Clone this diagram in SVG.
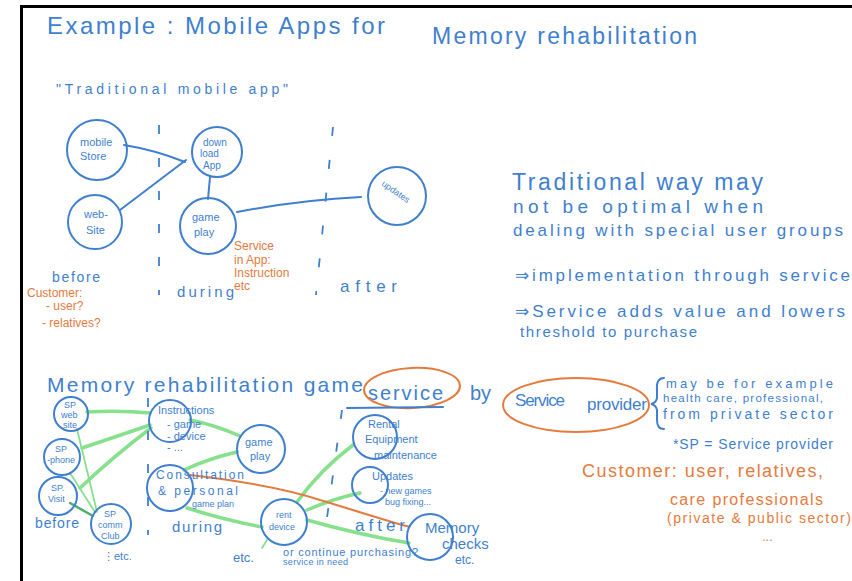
<svg xmlns="http://www.w3.org/2000/svg" width="852" height="581" viewBox="0 0 852 581">
<style>
  text { font-family: "Liberation Sans", "DejaVu Sans", sans-serif; }
  .b { fill: #3f7fcf; }
  .o { fill: #e57a3d; }
  .node { fill: none; stroke: #3f7fcf; stroke-width: 2; }
  .edge { fill: none; stroke: #3f7fcf; stroke-width: 2; stroke-linecap: round; }
  .g { fill: none; stroke: #86e08c; stroke-width: 3.5; stroke-linecap: round; }
  .gt { fill: none; stroke: #86e08c; stroke-width: 1.8; stroke-linecap: round; }
  .gd { fill: none; stroke: #4fae6a; stroke-width: 2.5; stroke-linecap: round; }
  .div { fill: none; stroke: #3f7fcf; stroke-width: 1.8; stroke-dasharray: 9 24; }
  .or { fill: none; stroke: #e57a3d; stroke-width: 2; }
  .s { font-size: 9px; }
  .m { font-size: 11px; }
</style>

<rect width="852" height="581" fill="#ffffff"/>
<path d="M21.5,581 V6.5 H852" fill="none" stroke="#000" stroke-width="3"/>

<!-- Titles and free text -->
<g id="title">
  <text class="b" x="47" y="34" font-size="24" textLength="338" lengthAdjust="spacing">Example : Mobile Apps for</text>
  <text class="b" x="432" y="44" font-size="23" textLength="265" lengthAdjust="spacing">Memory rehabilitation</text>
  <text class="b" x="56" y="94" font-size="14" textLength="232" lengthAdjust="spacing">"Traditional mobile app"</text>
</g>

<g id="right-notes">
  <text class="b" x="512" y="190" font-size="23" textLength="251" lengthAdjust="spacing">Traditional way may</text>
  <text class="b" x="513" y="213" font-size="19" textLength="250" lengthAdjust="spacing">not be optimal when</text>
  <text class="b" x="513" y="236" font-size="17" textLength="330" lengthAdjust="spacing">dealing with special user groups</text>
  <text class="b" x="515" y="281" font-size="17" textLength="335" lengthAdjust="spacing">⇒implementation through service</text>
  <text class="b" x="515" y="317" font-size="17" textLength="330" lengthAdjust="spacing">⇒Service adds value and lowers</text>
  <text class="b" x="520" y="337" font-size="15" textLength="177" lengthAdjust="spacing">threshold to purchase</text>
</g>

<!-- top phases -->
<g id="top-phases">
  <path class="div" d="M159,125 V295"/>
  <path class="div" d="M333,127 L316,295"/>
  <text class="b" x="52" y="282" font-size="14" textLength="48" lengthAdjust="spacing">before</text>
  <text class="o" x="27" y="297" font-size="12">Customer:</text>
  <text class="o" x="46" y="310" font-size="12">- user?</text>
  <text class="o" x="42" y="327" font-size="12">- relatives?</text>
  <text class="b" x="177" y="297" font-size="15" textLength="57" lengthAdjust="spacing">during</text>
  <text class="b" x="340" y="292" font-size="17" textLength="57" lengthAdjust="spacing">after</text>
  <text class="o" x="234" y="250" font-size="12">Service</text>
  <text class="o" x="234" y="264" font-size="12">in App:</text>
  <text class="o" x="234" y="277" font-size="12">Instruction</text>
  <text class="o" x="234" y="290" font-size="12">etc</text>
</g>

<!-- connectors -->
<g id="connectors">
  <path class="edge" d="M124,145 Q155,150 185,162"/>
  <path class="edge" d="M120,210 L186,160"/>
  <path class="edge" d="M210,177 L208,199"/>
  <path class="edge" d="M237,212 Q300,200 361,197"/>

  <path class="g" d="M87,412 Q120,410 150,413"/>
  <path class="g" d="M82,448 Q115,437 150,425"/>
  <path class="g" d="M80,488 Q115,455 151,428"/>
  <path class="gt" d="M77,429 L97,512"/>
  <path class="gt" d="M70,473 L95,512"/>
  <path class="gd" d="M70,503 L93,516"/>
  <path class="g" d="M190,420 Q215,425 240,436"/>
  <path class="g" d="M184,470 Q210,458 237,452"/>
  <path class="g" d="M187,508 Q225,520 262,527"/>
  <path class="g" d="M297,502 Q320,470 353,445"/>
  <path class="g" d="M307,510 Q335,498 360,493"/>
  <path class="g" d="M307,520 Q360,535 409,543"/>
  <path class="gt" d="M267,540 L262,548"/>
  <path class="or" d="M190,475 C250,482 290,490 320,500 C360,512 390,522 410,527"/>
</g>

<!-- top nodes -->
<g id="mobile-store">
  <circle class="node" cx="97" cy="150" r="30"/>
  <text class="b m" x="80" y="146">mobile</text>
  <text class="b m" x="80" y="160">Store</text>
</g>
<g id="web-site">
  <circle class="node" cx="95" cy="222" r="27"/>
  <text class="b m" x="84" y="218">web-</text>
  <text class="b m" x="86" y="234">Site</text>
</g>
<g id="download-app">
  <circle class="node" cx="217" cy="152" r="25"/>
  <text class="b" x="203" y="146" font-size="10">down</text>
  <text class="b" x="200" y="157" font-size="10">load</text>
  <text class="b" x="203" y="169" font-size="10">App</text>
</g>
<g id="game-play-top">
  <circle class="node" cx="208" cy="226" r="28"/>
  <text class="b m" x="192" y="221">game</text>
  <text class="b m" x="194" y="236">play</text>
</g>
<g id="updates-top">
  <circle class="node" cx="397" cy="196" r="29"/>
  <text class="b s" x="0" y="0" transform="translate(381,185) rotate(35)">updates</text>
</g>

<!-- bottom heading -->
<g id="bottom-heading">
  <text class="b" x="47" y="392" font-size="21" textLength="316" lengthAdjust="spacing">Memory rehabilitation game</text>
  <text class="b" x="368" y="400" font-size="20" textLength="75" lengthAdjust="spacing">service</text>
  <ellipse class="or" cx="412" cy="388" rx="48" ry="20" transform="rotate(-3 412 388)"/>
  <path class="edge" d="M347,408 L443,407"/>
  <text class="b" x="470" y="400" font-size="20">by</text>
  <text class="b" x="515" y="406" font-size="17" textLength="50" lengthAdjust="spacing">Service</text>
  <text class="b" x="587" y="410" font-size="17" textLength="60" lengthAdjust="spacing">provider</text>
  <ellipse class="or" cx="576" cy="405" rx="73" ry="27"/>
  <path class="edge" d="M664,378 Q656,378 657,390 L657,398 Q656,403 651,404 Q656,405 657,410 L657,420 Q657,429 664,429"/>
  <text class="b" x="666" y="388" font-size="13" textLength="167" lengthAdjust="spacing">may be for example</text>
  <text class="b" x="663" y="402" font-size="11.5" textLength="160" lengthAdjust="spacing">health care, professional,</text>
  <text class="b" x="663" y="419" font-size="14" textLength="170" lengthAdjust="spacing">from private sector</text>
  <text class="b" x="673" y="449" font-size="14" textLength="160" lengthAdjust="spacing">*SP = Service provider</text>
  <text class="o" x="582" y="477" font-size="18" textLength="241" lengthAdjust="spacing">Customer: user, relatives,</text>
  <text class="o" x="670" y="505" font-size="16" textLength="153" lengthAdjust="spacing">care professionals</text>
  <text class="o" x="667" y="523" font-size="14" textLength="184" lengthAdjust="spacing">(private &amp; public sector)</text>
  <text class="o" x="762" y="541" font-size="13">...</text>
</g>

<!-- bottom phases -->
<g id="bottom-phases">
  <path class="div" d="M148,398 V535"/>
  <path class="div" d="M342,410 L325,532"/>
  <text class="b" x="35" y="528" font-size="14" textLength="44" lengthAdjust="spacing">before</text>
  <text class="b" x="172" y="532" font-size="15" textLength="50" lengthAdjust="spacing">during</text>
  <text class="b" x="355" y="531" font-size="17" textLength="50" lengthAdjust="spacing">after</text>
  <text class="b" x="103" y="560" font-size="11">⋮etc.</text>
  <text class="b" x="233" y="562" font-size="13">etc.</text>
  <text class="b" x="283" y="556" font-size="11" textLength="135" lengthAdjust="spacing">or continue purchasing?</text>
  <text class="b" x="283" y="565" font-size="9" textLength="65" lengthAdjust="spacing">service in need</text>
  <text class="b" x="455" y="564" font-size="12">etc.</text>
</g>

<!-- bottom nodes -->
<g id="sp-web-site">
  <circle class="node" cx="71" cy="414" r="17"/>
  <text class="b s" x="64" y="408">SP</text>
  <text class="b s" x="61" y="418">web</text>
  <text class="b s" x="63" y="428">site</text>
</g>
<g id="sp-phone">
  <circle class="node" cx="62" cy="457" r="18"/>
  <text class="b s" x="55" y="452">SP</text>
  <text class="b s" x="47" y="463">-phone</text>
</g>
<g id="sp-visit">
  <circle class="node" cx="58" cy="496" r="19"/>
  <text class="b s" x="51" y="491">SP.</text>
  <text class="b s" x="48" y="502">Visit</text>
</g>
<g id="sp-comm-club">
  <circle class="node" cx="111" cy="524" r="20"/>
  <text class="b s" x="104" y="517">SP</text>
  <text class="b s" x="98" y="528">comm</text>
  <text class="b s" x="101" y="539">Club</text>
</g>
<g id="instructions">
  <circle class="node" cx="170" cy="421" r="21"/>
  <text class="b m" x="158" y="414">Instructions</text>
  <text class="b m" x="167" y="428">- game</text>
  <text class="b m" x="167" y="440">- device</text>
  <text class="b m" x="167" y="451">- ...</text>
</g>
<g id="game-play-bottom">
  <circle class="node" cx="261" cy="449" r="24"/>
  <text class="b m" x="245" y="446">game</text>
  <text class="b m" x="250" y="460">play</text>
</g>
<g id="consultation">
  <circle class="node" cx="170" cy="488" r="23"/>
  <text class="b" x="156" y="479" font-size="12" textLength="88" lengthAdjust="spacing">Consultation</text>
  <text class="b" x="158" y="495" font-size="12" textLength="80" lengthAdjust="spacing">&amp; personal</text>
  <text class="b s" x="192" y="507">game plan</text>
</g>
<g id="rent-device">
  <circle class="node" cx="284" cy="522" r="23"/>
  <text class="b s" x="276" y="518">rent</text>
  <text class="b s" x="269" y="530">device</text>
</g>
<g id="rental">
  <circle class="node" cx="375" cy="437" r="22"/>
  <text class="b m" x="368" y="428">Rental</text>
  <text class="b m" x="365" y="443">Equipment</text>
  <text class="b m" x="374" y="459">maintenance</text>
</g>
<g id="updates-bottom">
  <circle class="node" cx="370" cy="485" r="18"/>
  <text class="b m" x="372" y="480">Updates</text>
  <text class="b s" x="380" y="494">- new games</text>
  <text class="b s" x="385" y="505">bug fixing...</text>
</g>
<g id="memory-checks">
  <circle class="node" cx="430" cy="537" r="23"/>
  <text class="b" x="425" y="533" font-size="15">Memory</text>
  <text class="b" x="442" y="549" font-size="15">checks</text>
</g>
</svg>
